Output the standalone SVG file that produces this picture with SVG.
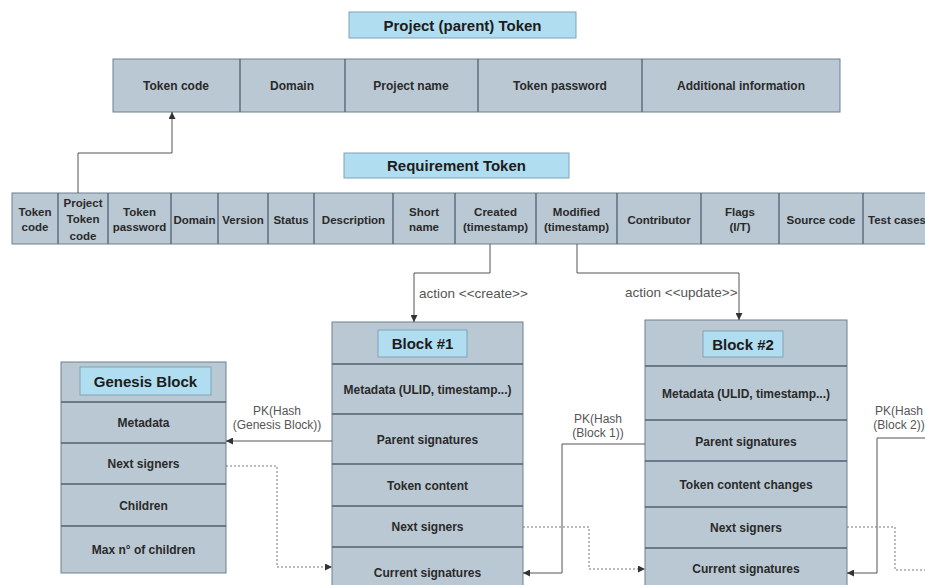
<svg xmlns="http://www.w3.org/2000/svg" width="925" height="585" viewBox="0 0 925 585">
<defs>
<style>
.c{fill:#bac8d3;stroke:#6f7f8d;stroke-width:1}
.d{stroke:#4f6070;stroke-width:1.3}
.t{fill:#b1ddf0;stroke:#7fa3b8;stroke-width:1}
.tt{font-family:"Liberation Sans",Arial,sans-serif;font-weight:bold;font-size:15px;fill:#1c1c1c;text-anchor:middle}
.p{font-family:"Liberation Sans",Arial,sans-serif;font-weight:bold;font-size:12px;fill:#2a2a2a;text-anchor:middle}
.x{font-family:"Liberation Sans",Arial,sans-serif;font-weight:bold;font-size:11.5px;fill:#2a2a2a;text-anchor:middle}
.b{font-family:"Liberation Sans",Arial,sans-serif;font-weight:bold;font-size:12px;fill:#2a2a2a;text-anchor:middle}
.l{font-family:"Liberation Sans",Arial,sans-serif;font-size:12px;fill:#555}
.la{font-family:"Liberation Sans",Arial,sans-serif;font-size:13.5px;fill:#555}
.s{fill:none;stroke:#555;stroke-width:1}
.dot{fill:none;stroke:#777;stroke-width:1;stroke-dasharray:2 2}
</style>
<marker id="a" markerWidth="8" markerHeight="7" refX="7" refY="3.5" orient="auto" markerUnits="userSpaceOnUse"><path d="M0,0 L7,3.5 L0,7 z" fill="#333"/></marker>
</defs>
<rect width="925" height="585" fill="#fff"/>

<g id="project-title"><rect class="t" x="349" y="12" width="227" height="26"/><text class="tt" x="462.5" y="30.5">Project (parent) Token</text></g>

<g id="project-token">
<rect class="c" x="113" y="59" width="727" height="53"/>
<line class="d" x1="240" y1="59" x2="240" y2="112"/><line class="d" x1="345" y1="59" x2="345" y2="112"/><line class="d" x1="478" y1="59" x2="478" y2="112"/><line class="d" x1="642" y1="59" x2="642" y2="112"/>
<text class="p" x="176" y="89.5">Token code</text>
<text class="p" x="292" y="89.5">Domain</text>
<text class="p" x="411" y="89.5">Project name</text>
<text class="p" x="560" y="89.5">Token password</text>
<text class="p" x="741" y="89.5">Additional information</text>
</g>

<g id="requirement-title"><rect class="t" x="344" y="153" width="225" height="25"/><text class="tt" x="456.5" y="171">Requirement Token</text></g>

<g id="requirement-token">
<rect class="c" x="12" y="193" width="920" height="51"/>
<g class="d">
<line x1="58" y1="193" x2="58" y2="244"/><line x1="108" y1="193" x2="108" y2="244"/><line x1="171" y1="193" x2="171" y2="244"/><line x1="218" y1="193" x2="218" y2="244"/><line x1="268" y1="193" x2="268" y2="244"/><line x1="314" y1="193" x2="314" y2="244"/><line x1="393" y1="193" x2="393" y2="244"/><line x1="455" y1="193" x2="455" y2="244"/><line x1="536" y1="193" x2="536" y2="244"/><line x1="617" y1="193" x2="617" y2="244"/><line x1="701" y1="193" x2="701" y2="244"/><line x1="779" y1="193" x2="779" y2="244"/><line x1="863" y1="193" x2="863" y2="244"/>
</g>
<text class="x" x="35" y="216">Token</text><text class="x" x="35" y="231">code</text>
<text class="x" x="83" y="207">Project</text><text class="x" x="83" y="223">Token</text><text class="x" x="83" y="240">code</text>
<text class="x" x="139.5" y="216">Token</text><text class="x" x="139.5" y="231">password</text>
<text class="x" x="194.5" y="224">Domain</text>
<text class="x" x="243" y="224">Version</text>
<text class="x" x="291" y="224">Status</text>
<text class="x" x="353.5" y="224">Description</text>
<text class="x" x="424" y="216">Short</text><text class="x" x="424" y="231">name</text>
<text class="x" x="495.5" y="216">Created</text><text class="x" x="495.5" y="231">(timestamp)</text>
<text class="x" x="576.5" y="216">Modified</text><text class="x" x="576.5" y="231">(timestamp)</text>
<text class="x" x="659" y="224">Contributor</text>
<text class="x" x="740" y="216">Flags</text><text class="x" x="740" y="231">(I/T)</text>
<text class="x" x="821" y="224">Source code</text>
<text class="x" x="897" y="224">Test cases</text>
</g>

<g id="genesis-block">
<rect class="c" x="61" y="362" width="165" height="211"/>
<rect class="t" x="80" y="367" width="131" height="28"/>
<text class="tt" x="145.5" y="386.5">Genesis Block</text>
<line class="d" x1="61" y1="402" x2="226" y2="402"/><line class="d" x1="61" y1="443" x2="226" y2="443"/><line class="d" x1="61" y1="484" x2="226" y2="484"/><line class="d" x1="61" y1="526" x2="226" y2="526"/>
<text class="b" x="143.5" y="426.5">Metadata</text>
<text class="b" x="143.5" y="467.5">Next signers</text>
<text class="b" x="143.5" y="509.5">Children</text>
<text class="b" x="143.5" y="553.5">Max n° of children</text>
</g>

<g id="block-1">
<rect class="c" x="332" y="322" width="191" height="270"/>
<rect class="t" x="378" y="330" width="89" height="27"/>
<text class="tt" x="422.5" y="349">Block #1</text>
<line class="d" x1="332" y1="364" x2="523" y2="364"/><line class="d" x1="332" y1="414" x2="523" y2="414"/><line class="d" x1="332" y1="464" x2="523" y2="464"/><line class="d" x1="332" y1="506" x2="523" y2="506"/><line class="d" x1="332" y1="547" x2="523" y2="547"/>
<text class="b" x="427.5" y="393.5">Metadata (ULID, timestamp...)</text>
<text class="b" x="427.5" y="443.5">Parent signatures</text>
<text class="b" x="427.5" y="489.5">Token content</text>
<text class="b" x="427.5" y="530.5">Next signers</text>
<text class="b" x="427.5" y="576.5">Current signatures</text>
</g>

<g id="block-2">
<rect class="c" x="645" y="320" width="202" height="272"/>
<rect class="t" x="703" y="331" width="80" height="26"/>
<text class="tt" x="743" y="349.5">Block #2</text>
<line class="d" x1="645" y1="366" x2="847" y2="366"/><line class="d" x1="645" y1="420" x2="847" y2="420"/><line class="d" x1="645" y1="461" x2="847" y2="461"/><line class="d" x1="645" y1="507" x2="847" y2="507"/><line class="d" x1="645" y1="548" x2="847" y2="548"/>
<text class="b" x="746" y="397.5">Metadata (ULID, timestamp...)</text>
<text class="b" x="746" y="445.5">Parent signatures</text>
<text class="b" x="746" y="488.5">Token content changes</text>
<text class="b" x="746" y="531.5">Next signers</text>
<text class="b" x="746" y="572.5">Current signatures</text>
</g>

<g id="connectors">
<path class="s" d="M78 193 V153 H172 V112" marker-end="url(#a)"/>
<path class="s" d="M490 244 V273 H414 V322" marker-end="url(#a)"/>
<path class="s" d="M577 244 V273 H739 V320" marker-end="url(#a)"/>
<path class="s" d="M332 441 H226" marker-end="url(#a)"/>
<path class="dot" d="M226 466 H277 V567 H332" marker-end="url(#a)"/>
<path class="s" d="M645 444 H562 V573 H523" marker-end="url(#a)"/>
<path class="dot" d="M523 527 H589 V569 H645" marker-end="url(#a)"/>
<path class="s" d="M930 438 H877 V573 H847" marker-end="url(#a)"/>
<path class="dot" d="M847 527 H895 V570 H930"/>
<text class="la" x="419" y="298">action &lt;&lt;create&gt;&gt;</text>
<text class="la" x="625" y="297">action &lt;&lt;update&gt;&gt;</text>
<text class="l" x="277" y="415" text-anchor="middle">PK(Hash</text>
<text class="l" x="277" y="429" text-anchor="middle">(Genesis Block))</text>
<text class="l" x="598" y="423" text-anchor="middle">PK(Hash</text>
<text class="l" x="598" y="437" text-anchor="middle">(Block 1))</text>
<text class="l" x="899" y="415" text-anchor="middle">PK(Hash</text>
<text class="l" x="899" y="429" text-anchor="middle">(Block 2))</text>
</g>
</svg>
